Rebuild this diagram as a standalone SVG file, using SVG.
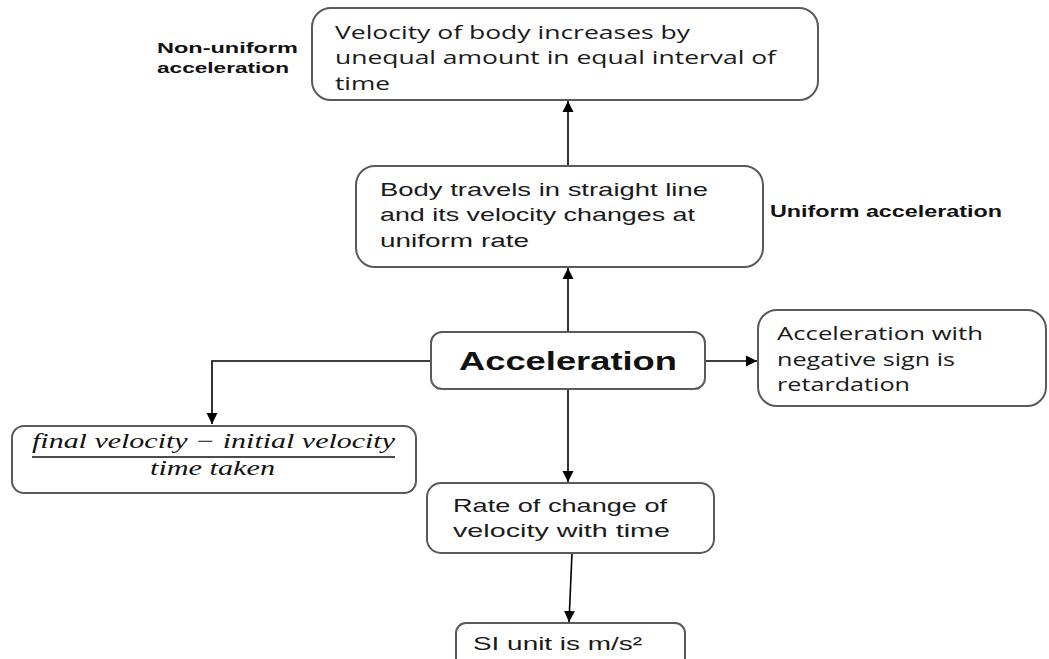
<svg xmlns="http://www.w3.org/2000/svg" width="1049" height="659" viewBox="0 0 1049 659">
<defs>
<marker id="arr" markerUnits="userSpaceOnUse" markerWidth="12" markerHeight="12" viewBox="0 0 12 12" refX="11" refY="6" orient="auto">
<path d="M0,0.5 L11,6 L0,11.5 z" fill="#000"/>
</marker>
<style>
.box{fill:#fff;stroke:#5a5a5a;stroke-width:2}
.t{font-family:"Open Sans","Liberation Sans",sans-serif;font-size:18px;fill:#1a1a1a}
.c{font-family:"Liberation Sans","Open Sans",sans-serif;font-size:19px;fill:#1a1a1a}
.lbl{font-family:"Liberation Sans",sans-serif;font-weight:bold;fill:#111}
.f{font-family:"Liberation Serif","DejaVu Serif",serif;font-style:italic;font-size:21px;fill:#111}
.conn{stroke:#000;stroke-width:1.6;fill:none}
</style>
</defs>
<rect width="1049" height="659" fill="#fff"/>
<g id="connectors">
<line class="conn" x1="568" y1="166" x2="568" y2="101" marker-end="url(#arr)"/>
<line class="conn" x1="568" y1="332" x2="568" y2="268" marker-end="url(#arr)"/>
<line class="conn" x1="705" y1="361" x2="757" y2="361" marker-end="url(#arr)"/>
<polyline class="conn" points="431,361 212,361 212,424" marker-end="url(#arr)"/>
<line class="conn" x1="568" y1="389" x2="568" y2="482" marker-end="url(#arr)"/>
<line class="conn" x1="572" y1="553" x2="569" y2="622" marker-end="url(#arr)"/>
</g>
<g id="nonuniform-label">
<text class="lbl" font-size="14" x="157" y="53" textLength="141" lengthAdjust="spacingAndGlyphs">Non-uniform</text>
<text class="lbl" font-size="14" x="157" y="73" textLength="132" lengthAdjust="spacingAndGlyphs">acceleration</text>
</g>
<g id="node-nonuniform">
<rect class="box" x="312" y="8" width="506" height="92" rx="19"/>
<text class="t" x="335" y="39" textLength="355" lengthAdjust="spacingAndGlyphs">Velocity of body increases by</text>
<text class="t" x="335" y="64" textLength="441" lengthAdjust="spacingAndGlyphs">unequal amount in equal interval of</text>
<text class="t" x="335" y="90" textLength="55" lengthAdjust="spacingAndGlyphs">time</text>
</g>
<g id="node-uniform">
<rect class="box" x="356" y="166" width="407" height="101" rx="19"/>
<text class="c" x="380" y="196" textLength="328" lengthAdjust="spacingAndGlyphs">Body travels in straight line</text>
<text class="c" x="380" y="221" textLength="315" lengthAdjust="spacingAndGlyphs">and its velocity changes  at</text>
<text class="c" x="380" y="247" textLength="149" lengthAdjust="spacingAndGlyphs">uniform rate</text>
</g>
<g id="uniform-label">
<text class="lbl" font-size="16" x="770" y="217" textLength="232" lengthAdjust="spacingAndGlyphs">Uniform acceleration</text>
</g>
<g id="node-acceleration">
<rect class="box" x="431" y="332" width="274" height="57" rx="11"/>
<text class="lbl" font-size="26" x="459" y="370" textLength="218" lengthAdjust="spacingAndGlyphs">Acceleration</text>
</g>
<g id="node-retardation">
<rect class="box" x="758" y="310" width="288" height="96" rx="19"/>
<text class="t" x="777" y="340" textLength="206" lengthAdjust="spacingAndGlyphs">Acceleration with</text>
<text class="t" x="777" y="366" textLength="178" lengthAdjust="spacingAndGlyphs">negative sign is</text>
<text class="t" x="777" y="391" textLength="133" lengthAdjust="spacingAndGlyphs">retardation</text>
</g>
<g id="node-formula">
<rect class="box" x="12" y="426" width="404" height="67" rx="12"/>
<text class="f" x="32" y="448" textLength="363" lengthAdjust="spacingAndGlyphs">final velocity − initial velocity</text>
<line x1="32" y1="457" x2="395" y2="457" stroke="#111" stroke-width="1.5"/>
<text class="f" x="150" y="475" textLength="125" lengthAdjust="spacingAndGlyphs">time taken</text>
</g>
<g id="node-rate">
<rect class="box" x="427" y="483" width="287" height="70" rx="14"/>
<text class="c" x="453" y="512" textLength="214" lengthAdjust="spacingAndGlyphs">Rate of change  of</text>
<text class="c" x="453" y="537" textLength="217" lengthAdjust="spacingAndGlyphs">velocity with  time</text>
</g>
<g id="node-si">
<rect class="box" x="456" y="623" width="229" height="60" rx="10"/>
<text class="c" x="473" y="650" textLength="169" lengthAdjust="spacingAndGlyphs">SI unit is m/s²</text>
</g>
</svg>
